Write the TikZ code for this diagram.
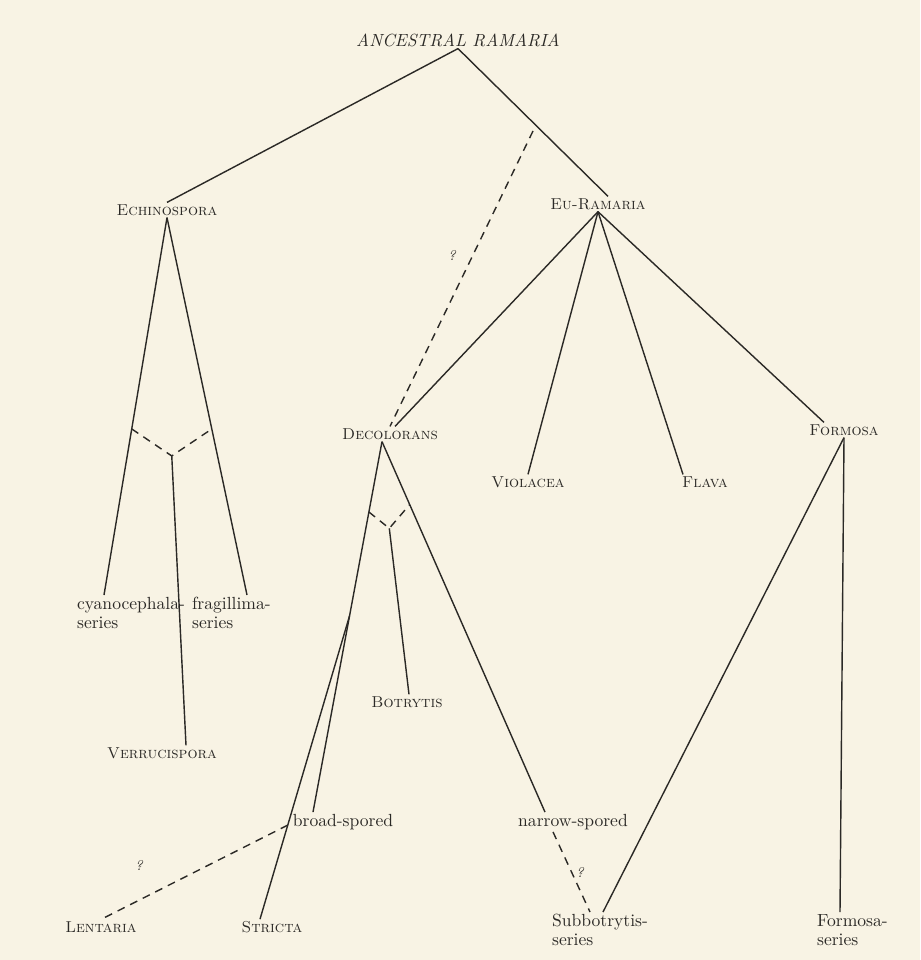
\documentclass[tikz,border=0pt]{standalone}
\usetikzlibrary{calc}
\definecolor{paper}{HTML}{F8F3E4}
\definecolor{ink}{HTML}{2B2926}
\begin{document}
\begin{tikzpicture}[x=0.02cm, y=-0.02cm,
  grp/.style={font=\fontsize{9}{11}\selectfont\scshape, text=ink, inner sep=1pt},
  ser/.style={font=\fontsize{10}{11}\selectfont, text=ink, align=left, inner sep=1pt},
  conn/.style={draw=ink, line width=0.8pt},
  unsure/.style={conn, dash pattern=on 4.5pt off 3.5pt},
  qm/.style={font=\fontsize{8}{9}\selectfont\itshape, text=ink, inner sep=1pt},
]
\fill[paper] (0,0) rectangle (920,960);

%% Root and first split
\node[font=\fontsize{10}{12}\selectfont\itshape, text=ink, inner sep=1pt] (anc) at (458,40) {ANCESTRAL RAMARIA};
\node[grp] (echi)  at (167,210) {Echinospora};
\node[grp] (eu)    at (598,204) {Eu-Ramaria};
\node[grp] (dec)   at (390,434) {Decolorans};
\node[grp] (form)  at (844,430) {Formosa};
\node[grp] (viol)  at (528,482) {Violacea};
\node[grp] (flava) at (705,482) {Flava};

%% Lower groups and series
\node[ser, anchor=north west] (cyan) at (75,595)  {cyanocephala-\\series};
\node[ser, anchor=north west] (frag) at (190,595) {fragillima-\\series};
\node[grp] (verr)   at (162,753) {Verrucispora};
\node[grp] (botr)   at (407,702) {Botrytis};
\node[ser] (broad)  at (343,822) {broad-spored};
\node[ser] (narrow) at (573,822) {narrow-spored};
\node[grp] (lent)   at (101,927) {Lentaria};
\node[grp] (stri)   at (272,927) {Stricta};
\node[ser, anchor=north west] (subb) at (550,912) {Subbotrytis-\\series};
\node[ser, anchor=north west] (fser) at (815,912) {Formosa-\\series};

%% Connectors from the root
\coordinate (dq) at (533,131);
\draw[conn] (anc.south) -- (echi.north);
\draw[conn] (anc.south) -- ($(eu.north)+(10,0)$);
\draw[unsure] (dq) -- (dec.north);
\node[qm] (q1) at (452,255) {?};

%% Echinospora
\draw[conn] (echi.south) -- coordinate[pos=0.56] (eL) ($(cyan.north west)+(29,0)$);
\draw[conn] (echi.south) -- coordinate[pos=0.56] (eR) ($(frag.north west)+(57,0)$);
\coordinate (eJ) at ($(eL)!0.5!(eR)+(0,27)$);
\draw[unsure] (eL) -- (eJ) -- (eR);
\draw[conn] (eJ) -- ($(verr.north)+(24,0)$);

%% Eu-Ramaria
\draw[conn] (eu.south) -- ($(dec.north)+(5,0)$);
\draw[conn] (eu.south) -- (viol.north);
\draw[conn] (eu.south) -- ($(flava.north)+(-22,0)$);
\draw[conn] (eu.south) -- ($(form.north)+(-20,0)$);

%% Decolorans
\coordinate (dA) at ($(dec.south)+(-8,0)$);
\draw[conn] (dA) -- coordinate[pos=0.19] (dL) coordinate[pos=0.47] (dS) ($(broad.north)+(-30,0)$);
\draw[conn] (dS) -- coordinate[pos=0.69] (sL) ($(stri.north)+(-12,0)$);
\draw[unsure] (sL) -- (lent.north);
\node[qm] (q2) at (139,865) {?};
\draw[conn] (dA) -- coordinate[pos=0.17] (dR) ($(narrow.north)+(-28,0)$);
\coordinate (dJ) at ($(dL)!0.5!(dR)+(0,20)$);
\draw[unsure] (dL) -- (dJ) -- (dR);
\draw[conn] (dJ) -- ($(botr.north)+(2,0)$);
\draw[unsure] ($(narrow.south)+(-20,0)$) -- ($(subb.north west)+(40,0)$);
\node[qm] (q3) at (580,872) {?};

%% Formosa
\draw[conn] (form.south) -- ($(subb.north west)+(53,0)$);
\draw[conn] (form.south) -- ($(fser.north west)+(25,0)$);

\end{tikzpicture}
\end{document}
